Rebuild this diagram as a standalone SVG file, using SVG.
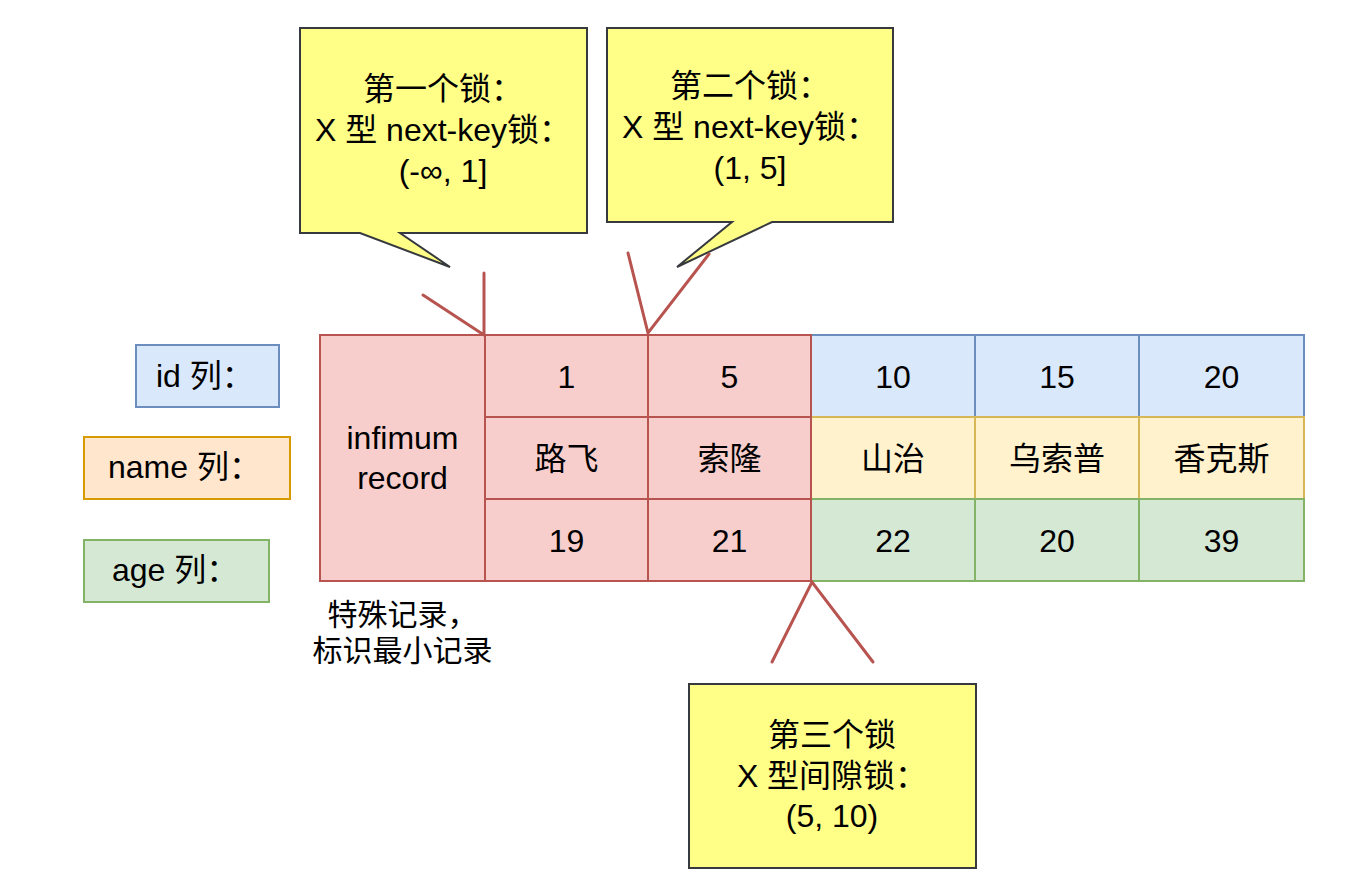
<svg xmlns="http://www.w3.org/2000/svg" width="1353" height="877" viewBox="0 0 1353 877">
<style>
text{font-family:"Liberation Sans","Noto Sans CJK SC",sans-serif;font-size:32px;fill:#000;}
.c{text-anchor:middle;}
.note{font-size:30px;}
.pink{fill:#f8cecc;stroke:#b85450;stroke-width:2;}
.blue{fill:#dae8fc;stroke:#6c8ebf;stroke-width:2;}
.yel{fill:#fff2cc;stroke:#d6b656;stroke-width:2;}
.grn{fill:#d5e8d4;stroke:#82b366;stroke-width:2;}
.org{fill:#ffe6cc;stroke:#d79b00;stroke-width:2;}
.callout{fill:#ffff88;stroke:#36393d;stroke-width:2;}
.ptr{fill:none;stroke:#b85450;stroke-width:3;stroke-linecap:round;}
</style>
<rect width="1353" height="877" fill="#fff"/>

<g id="label-id"><rect class="blue" x="136" y="345" width="143" height="62"/><text x="156" y="387">id 列：</text></g>
<g id="label-name"><rect class="org" x="84" y="437" width="206" height="62"/><text x="108" y="478">name 列：</text></g>
<g id="label-age"><rect class="grn" x="84" y="540" width="185" height="62"/><text x="112" y="581">age 列：</text></g>

<g id="infimum"><rect class="pink" x="320" y="335" width="165" height="246"/><text class="c" x="402.5" y="449">infimum</text><text class="c" x="402.5" y="489">record</text></g>

<g id="rec10">
<rect class="blue" x="811" y="335" width="164" height="82"/><text class="c" x="893" y="388">10</text>
<rect class="yel" x="811" y="417" width="164" height="82"/><text class="c" x="893" y="470">山治</text>
<rect class="grn" x="811" y="499" width="164" height="82"/><text class="c" x="893" y="552">22</text>
</g>
<g id="rec15">
<rect class="blue" x="975" y="335" width="164" height="82"/><text class="c" x="1057" y="388">15</text>
<rect class="yel" x="975" y="417" width="164" height="82"/><text class="c" x="1057" y="470">乌索普</text>
<rect class="grn" x="975" y="499" width="164" height="82"/><text class="c" x="1057" y="552">20</text>
</g>
<g id="rec20">
<rect class="blue" x="1139" y="335" width="165" height="82"/><text class="c" x="1221.5" y="388">20</text>
<rect class="yel" x="1139" y="417" width="165" height="82"/><text class="c" x="1221.5" y="470">香克斯</text>
<rect class="grn" x="1139" y="499" width="165" height="82"/><text class="c" x="1221.5" y="552">39</text>
</g>
<g id="rec1">
<rect class="pink" x="485" y="335" width="163" height="82"/><text class="c" x="566.5" y="388">1</text>
<rect class="pink" x="485" y="417" width="163" height="82"/><text class="c" x="566.5" y="470">路飞</text>
<rect class="pink" x="485" y="499" width="163" height="82"/><text class="c" x="566.5" y="552">19</text>
</g>
<g id="rec5">
<rect class="pink" x="648" y="335" width="163" height="82"/><text class="c" x="729.5" y="388">5</text>
<rect class="pink" x="648" y="417" width="163" height="82"/><text class="c" x="729.5" y="470">索隆</text>
<rect class="pink" x="648" y="499" width="163" height="82"/><text class="c" x="729.5" y="552">21</text>
</g>

<g id="note"><text class="c note" x="402.5" y="625">特殊记录，</text><text class="c note" x="402.5" y="661">标识最小记录</text></g>

<g id="callout1"><path class="callout" d="M300,28 H587 V233 H400 L450,267 L360,233 H300 Z"/>
<text class="c" x="443" y="100">第一个锁：</text><text class="c" x="443" y="141">X 型 next-key锁：</text><text class="c" x="443" y="182">(-∞, 1]</text></g>
<g id="callout2"><path class="callout" d="M607,28 H893 V222 H772 L677,267 L732,222 H607 Z"/>
<text class="c" x="750" y="97">第二个锁：</text><text class="c" x="750" y="138">X 型 next-key锁：</text><text class="c" x="750" y="179">(1, 5]</text></g>
<g id="callout3"><rect class="callout" x="689" y="684" width="287" height="184"/>
<text class="c" x="832" y="746">第三个锁</text><text class="c" x="832" y="787">X 型间隙锁：</text><text class="c" x="832" y="827">(5, 10)</text></g>

<g id="connectors">
<path class="ptr" d="M484,273 V335 M423,295 L484,335"/>
<path class="ptr" d="M628,253 L648,333 L709,254"/>
<path class="ptr" d="M772,662 L812,582 L873,662"/>
</g>
</svg>
